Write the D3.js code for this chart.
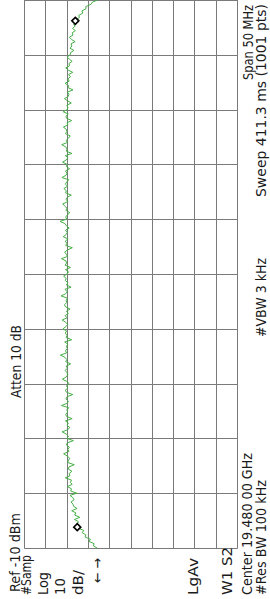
<!DOCTYPE html>
<html>
<head>
<meta charset="utf-8">
<script src="https://cdn.jsdelivr.net/npm/d3@7"></script>
<style>
  html, body { margin: 0; padding: 0; background: #fff; }
  svg { display: block; }
  text { font-family: "DejaVu Sans", sans-serif; font-size: 14px; fill: #1a1a1a; }
</style>
</head>
<body>
<svg id="chart" width="270" height="599"></svg>
<script>
// spectrum analyzer screen, turned 90deg counter-clockwise
const refLevel = -10
const dbPerDiv = 10
const startGHz = 19.455
const stopGHz = 19.505

// trace, dBm, 251 points from start to stop freq
const trace = [
  -44.3, -42.6, -42.9, -40.5, -41.2, -38.7, -39.0, -37.3, -38.1, -35.6, -36.0,
  -34.8, -35.6, -33.7, -36.2, -33.8, -34.4, -32.4, -34.9, -33.3, -33.0,
  -32.1, -33.5, -32.9, -31.6, -34.8, -31.9, -32.3, -30.4, -32.6, -31.8,
  -32.3, -29.4, -31.6, -31.2, -32.5, -30.8, -31.1, -33.6, -30.5, -30.9,
  -31.4, -30.2, -28.6, -31.1, -30.6, -31.3, -29.9, -30.4, -33.2, -30.1,
  -30.9, -29.8, -27.9, -30.7, -31.4, -30.2, -30.8, -29.5, -32.6, -30.0,
  -29.6, -30.5, -30.1, -31.0, -27.6, -30.3, -30.8, -29.7, -30.2, -32.9,
  -30.0, -29.4, -30.6, -29.9, -31.2, -30.1, -28.0, -29.8, -30.5, -30.2,
  -29.3, -30.4, -29.8, -31.9, -29.6, -30.1, -29.2, -27.1, -30.0, -29.5,
  -30.3, -29.9, -30.6, -29.1, -32.4, -29.8, -30.2, -29.4, -30.0, -28.3,
  -29.7, -30.5, -29.6, -27.9, -30.2, -29.3, -30.8, -29.9, -31.6, -29.5,
  -29.0, -30.1, -29.8, -30.4, -27.4, -29.6, -30.3, -29.2, -32.1, -29.9,
  -30.6, -29.4, -29.8, -28.6, -30.2, -30.9, -29.5, -31.8, -29.3, -30.0,
  -29.7, -27.6, -30.4, -29.9, -29.1, -30.5, -32.7, -29.6, -30.1, -29.4,
  -30.7, -28.4, -29.8, -30.3, -29.5, -31.2, -29.9, -29.2, -26.9, -30.0,
  -29.6, -30.4, -31.5, -29.7, -30.2, -29.1, -28.2, -30.6, -29.8, -30.3,
  -32.2, -29.5, -29.9, -28.7, -30.5, -29.4, -30.1, -31.0, -27.8, -29.7,
  -30.2, -29.5, -31.4, -29.9, -30.3, -28.1, -29.8, -30.6, -29.4, -32.5,
  -29.9, -30.2, -29.6, -27.7, -30.4, -29.8, -30.9, -31.7, -29.5, -30.1,
  -29.9, -28.5, -30.6, -30.2, -32.4, -30.0, -29.7, -30.8, -28.4, -30.3,
  -30.6, -30.1, -32.2, -30.5, -29.0, -30.8, -31.1, -30.4, -33.0, -30.7,
  -30.9, -29.3, -31.2, -30.6, -31.8, -30.9, -32.9, -30.8, -29.6, -31.4,
  -31.1, -32.6, -31.3, -30.2, -31.7,
  -31.9, -33.4, -31.6, -32.5, -32.1, -34.0, -32.3, -31.3, -33.0, -32.6,
  -34.1, -32.8, -33.9, -33.4, -35.5, -34.4, -36.0, -35.7, -37.6, -37.2,
  -39.1, -39.0, -41.4, -42.1, -44.5
]

// markers: freq GHz, level dBm
const markerFreqs = [19.4569, 19.5031]
const markerLevels = [-35.0, -34.1]

const labelTexts = [
  'Atten 10 dB', 'Ref -10 dBm', '#Samp', 'Log', '10', 'dB/', '\u2190 \u2192',
  'LgAv', 'W1  S2', 'Center 19.480 00 GHz', '#Res BW 100 kHz',
  '#VBW 3 kHz', 'Sweep 411.3 ms (1001 pts)', 'Span 50 MHz'
]
// baseline x, start y, length along the text
const labelPos = [
  [21, 398, 73], [20, 592, 79], [31, 595, 40], [48, 595, 23], [65, 595, 17],
  [83, 595, 25], [102, 583, 25],
  [198, 595, 37], [232, 595, 48], [252, 595, 142], [266, 595, 115],
  [266, 337, 79], [266, 197, 193], [253, 80, 75]
]

const svg = d3.select('#chart')

const plotL = 24, plotR = 237, plotT = 0, plotB = 548

const x = d3.scaleLinear()
  .domain([refLevel, refLevel - 10 * dbPerDiv])
  .range([plotL, plotR])
const y = d3.scaleLinear()
  .domain([startGHz, stopGHz])
  .range([plotB, plotT])

const px = v => Math.round(v) + 0.5

// graticule
const g = svg.append('g')
g.selectAll('.vl')
  .data(d3.range(0, 11).map(i => refLevel - i * dbPerDiv))
  .enter().append('line')
  .attr('x1', d => px(x(d))).attr('x2', d => px(x(d)))
  .attr('y1', plotT).attr('y2', plotB + 0.5)
  .attr('stroke', '#7a7a7a').attr('stroke-width', 1)
g.selectAll('.hl')
  .data(d3.range(0, 11).map(i => startGHz + i * (stopGHz - startGHz) / 10))
  .enter().append('line')
  .attr('y1', d => px(y(d))).attr('y2', d => px(y(d)))
  .attr('x1', px(plotL)).attr('x2', px(plotR))
  .attr('stroke', '#7a7a7a').attr('stroke-width', 1)

// trace
const step = (stopGHz - startGHz) / (trace.length - 1)
const line = d3.line()
  .x(d => x(d))
  .y((d, i) => y(startGHz + i * step))
svg.append('path')
  .datum(trace)
  .attr('d', line)
  .attr('fill', 'none')
  .attr('stroke', '#45b045')
  .attr('stroke-width', 1)

// markers
svg.selectAll('.mk')
  .data(markerFreqs)
  .enter().append('path')
  .attr('d', 'M0,-3.5L3.5,0L0,3.5L-3.5,0Z')
  .attr('transform', (d, i) => `translate(${x(markerLevels[i])},${y(d)})`)
  .attr('fill', '#fff')
  .attr('stroke', '#000')
  .attr('stroke-width', 1.6)

// rotated annotation text
svg.selectAll('.lbl')
  .data(labelTexts)
  .enter().append('text')
  .attr('transform', (d, i) => `translate(${labelPos[i][0]},${labelPos[i][1]}) rotate(-90)`)
  .attr('textLength', (d, i) => labelPos[i][2])
  .attr('lengthAdjust', 'spacingAndGlyphs')
  .text(d => d)
</script>
</body>
</html>
